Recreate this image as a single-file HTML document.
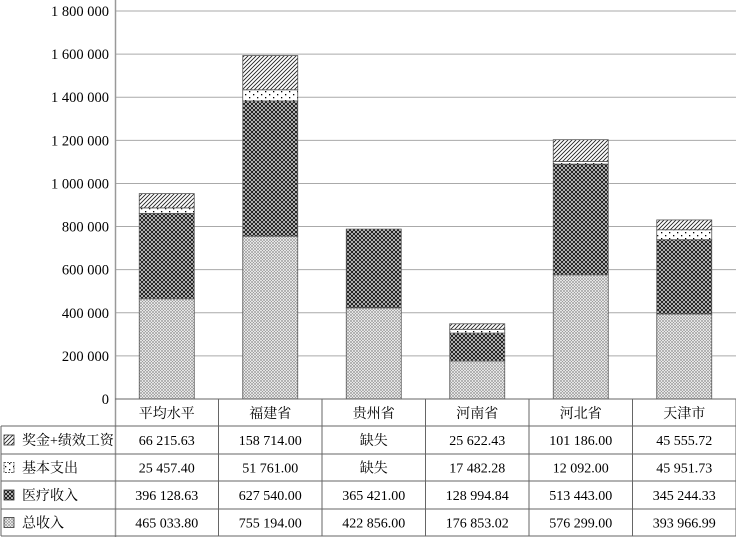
<!DOCTYPE html>
<html><head><meta charset="utf-8"><style>
body{margin:0;background:#fff;width:736px;height:537px;overflow:hidden}
svg text{font-family:"Liberation Serif","Noto Serif CJK SC","Noto Sans CJK SC",serif;font-size:14px;fill:#000}
svg text.t{font-size:14.5px}
</style></head><body>
<svg id="s" width="736" height="537" xmlns="http://www.w3.org/2000/svg">
<defs>
<pattern id="pTot" width="3" height="3" patternUnits="userSpaceOnUse"><rect width="3" height="3" fill="#fff"/><path d="M0,0l3,3M3,0l-3,3" stroke="#999" stroke-width="0.7"/></pattern>
<pattern id="pMed" width="4" height="4" patternUnits="userSpaceOnUse"><rect width="4" height="4" fill="#fff"/><path d="M0,0l4,4M4,0l-4,4" stroke="#222" stroke-width="1.2"/></pattern>
<pattern id="pBas" width="8" height="6" patternUnits="userSpaceOnUse"><rect width="8" height="6" fill="#fff"/><rect x="1" y="1" width="1.3" height="1.3" fill="#000"/><rect x="5" y="4" width="1.3" height="1.3" fill="#000"/></pattern>
<pattern id="pBon" width="4" height="4" patternUnits="userSpaceOnUse"><rect width="4" height="4" fill="#fff"/><path d="M-1,5l6,-6M-1,1l2,-2M3,5l2,-2" stroke="#222" stroke-width="0.9"/></pattern>
</defs>
<g id="g"></g>
</svg>
<script>
var g=document.getElementById('g'),h='';
function Y(v){return 399-v*388/1800000;}
for(var i=0;i<=9;i++){var v=i*200000,y=Y(v);
 h+='<line x1="115" x2="736" y1="'+y+'" y2="'+y+'" stroke="#aaa" stroke-width="1"/>';
 var l=v==0?'0':(v>=1000000?Math.floor(v/1000000)+' '+String(Math.floor(v/1000)%1000).padStart(3,'0')+' 000':(v/1000)+' 000');
 h+='<text class="t" x="109" y="'+(y+5)+'" text-anchor="end">'+l+'</text>';}
var D=[[465034,396129,25457,66216],[755194,627540,51761,158714],[422856,365421,0,0],[176853,128995,17482,25622],[576299,513443,12092,101186],[393967,345244,45952,45556]];
var P=['pTot','pMed','pBas','pBon'],cw=103.5;
D.forEach(function(d,i){var cx=115+cw*i+cw/2,acc=0;
 d.forEach(function(v,j){if(!v)return;var y1=Y(acc+v),y0=Y(acc);acc+=v;
  h+='<rect x="'+(cx-27.5)+'" y="'+y1+'" width="55" height="'+(y0-y1)+'" fill="url(#'+P[j]+')" stroke="#555" stroke-width="0.8"/>';});});
h+='<line x1="115.5" x2="115.5" y1="0" y2="537" stroke="#999" stroke-width="1.5"/>';
var rows=[399,426,454,481,509,536];
h+='<line x1="115" x2="736" y1="399" y2="399" stroke="#666"/>';
for(var r=1;r<rows.length;r++)h+='<line x1="1" x2="736" y1="'+rows[r]+'" y2="'+rows[r]+'" stroke="#666"/>';
h+='<line x1="1" x2="1" y1="426" y2="536" stroke="#666"/>';
for(var c=1;c<=6;c++){var x=115+cw*c;h+='<line x1="'+x+'" x2="'+x+'" y1="399" y2="536" stroke="#666"/>';}
var hd=['平均水平','福建省','贵州省','河南省','河北省','天津市'];
hd.forEach(function(t,i){h+='<text x="'+(115+cw*i+cw/2)+'" y="418" text-anchor="middle">'+t+'</text>';});
var lab=['奖金+绩效工资','基本支出','医疗收入','总收入'];
var T=[['66 215.63','158 714.00','缺失','25 622.43','101 186.00','45 555.72'],
['25 457.40','51 761.00','缺失','17 482.28','12 092.00','45 951.73'],
['396 128.63','627 540.00','365 421.00','128 994.84','513 443.00','345 244.33'],
['465 033.80','755 194.00','422 856.00','176 853.02','576 299.00','393 966.99']];
var pat=['pBon','pBas','pMed','pTot'];
for(var r=0;r<4;r++){var yc=(rows[r+1]+rows[r+2])/2;
 h+='<rect x="4" y="'+(yc-5)+'" width="10" height="10" fill="url(#'+pat[r]+')" stroke="#333" stroke-width="0.8"'+(r==1?' stroke-dasharray="2,1"':'')+'/>';
 h+='<text x="22" y="'+(yc+5)+'">'+lab[r]+'</text>';
 T[r].forEach(function(t,i){h+='<text x="'+(115+cw*i+cw/2)+'" y="'+(yc+5)+'" text-anchor="middle">'+t+'</text>';});}
g.innerHTML=h;
</script>
</body></html>
